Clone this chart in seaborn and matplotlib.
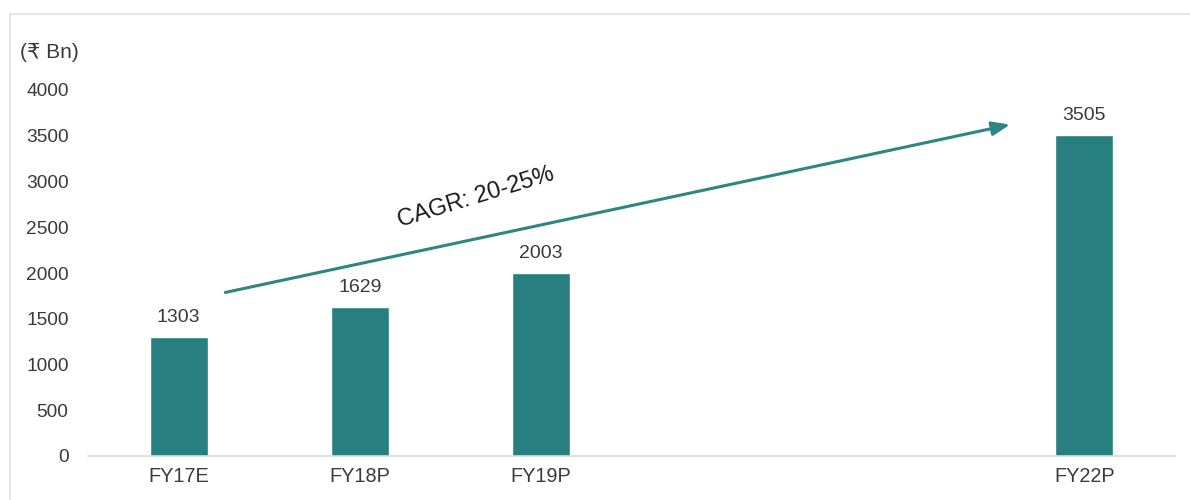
import matplotlib
matplotlib.use("Agg")
import matplotlib.pyplot as plt
import seaborn as sns
import pandas as pd
from matplotlib.lines import Line2D

categories = ["FY17E", "FY18P", "FY19P", "FY22P"]
values = [1303, 1629, 2003, 3505]
axis_order = ["FY17E", "FY18P", "FY19P", "FY20P", "FY21P", "FY22P"]
tick_labels = ["FY17E", "FY18P", "FY19P", "", "", "FY22P"]
yticks = [0, 500, 1000, 1500, 2000, 2500, 3000, 3500, 4000]
unit_label = "(₹ Bn)"
cagr_text = "CAGR: 20-25%"

sns.set_theme(style="white")
plt.rcParams["font.family"] = ["Liberation Sans", "DejaVu Sans"]

bar_color = "#277F80"
text_color = "#3a3a3a"

df = pd.DataFrame({"cat": categories, "val": values})

fig = plt.figure(figsize=(11.9, 5.0), dpi=100)
ax = fig.add_axes([88/1190, 1-456/500, (1175-88)/1190, (456-90)/500])

sns.barplot(data=df, x="cat", y="val", order=axis_order, color=bar_color,
            width=0.32, saturation=1, ax=ax)

ax.set_ylim(0, 4000)
ax.set_xlim(-0.5, 5.5)
ax.set_yticks(yticks)
ax.set_yticklabels([str(t) for t in yticks], fontsize=13.8, color=text_color)
ax.set_xticks(range(len(axis_order)))
ax.set_xticklabels(tick_labels, fontsize=14.3, color=text_color)
ax.tick_params(axis="both", length=0)
ax.tick_params(axis="x", pad=8)
ax.tick_params(axis="y", pad=14)
ax.set_xlabel("")
ax.set_ylabel("")
for s in ["top", "right", "left"]:
    ax.spines[s].set_visible(False)
ax.spines["bottom"].set_color("#d9d9d9")
ax.spines["bottom"].set_linewidth(1.2)

for c in ax.containers:
    ax.bar_label(c, labels=[str(v) for v in values], padding=8,
                 fontsize=14, color=text_color)

ax.annotate("", xy=(4.605, 3628), xytext=(0.243, 1781),
            arrowprops=dict(arrowstyle="-|>,head_length=0.9,head_width=0.35",
                            color="#2E8585", lw=2.2),
            annotation_clip=False)
ax.text(1.64, 2830, cagr_text, rotation=17, ha="center", va="center",
        fontsize=17, color="#1a1a1a", rotation_mode="anchor")

fig.text(20/1190, 1-52/500, unit_label, ha="left", va="center",
         fontsize=15, color=text_color)

fig.add_artist(Line2D([10/1190, 1], [1-14/500, 1-14/500], color="#e0e0e0", lw=1.2))
fig.add_artist(Line2D([10/1190, 10/1190], [0, 1-14/500], color="#e0e0e0", lw=1.2))

fig.savefig("out.png", dpi=100)
